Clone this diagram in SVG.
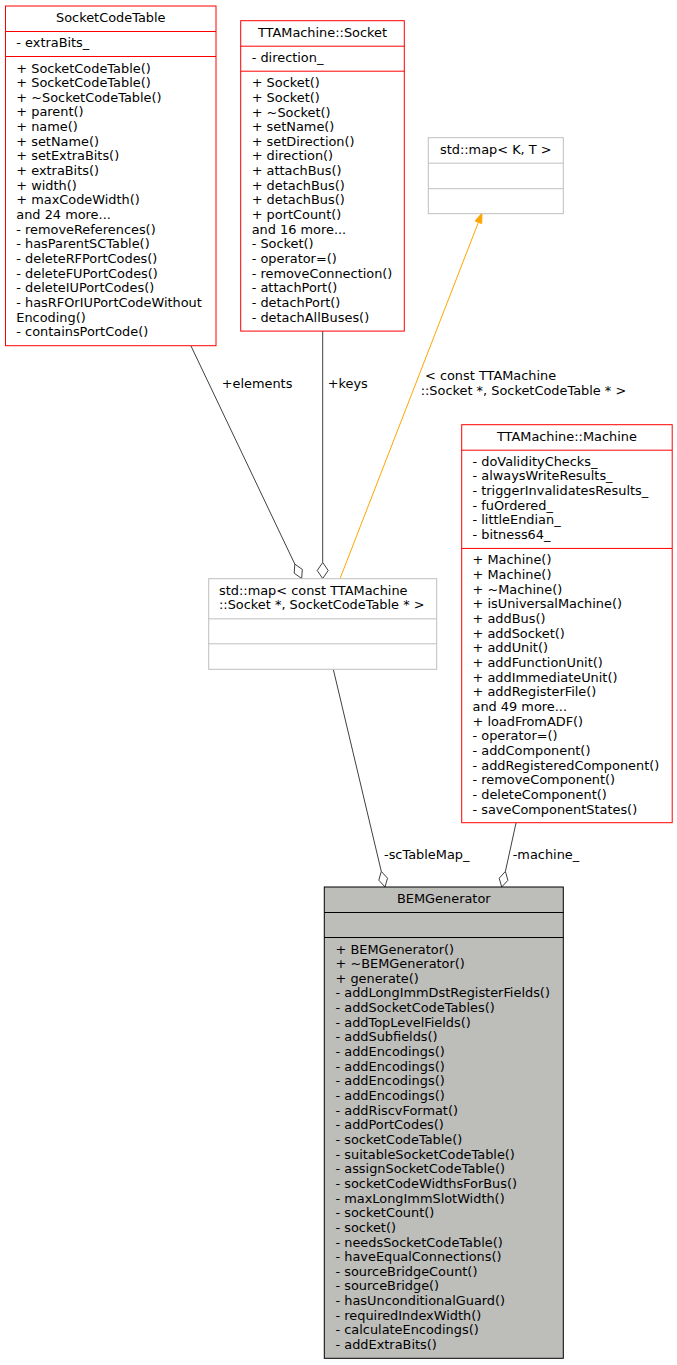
<svg xmlns="http://www.w3.org/2000/svg" width="677" height="1365" viewBox="0 0 677 1365">
<style>
text{font-family:"DejaVu Sans","Liberation Sans",sans-serif;font-size:12.9px;fill:#000}
.c{text-anchor:middle}
.red{fill:#fff;stroke:#ff0000;stroke-width:1}
.gray{fill:#fff;stroke:#bfbfbf;stroke-width:1}
.bem{fill:#bdbdba;stroke:#000;stroke-width:1}
.sr{stroke:#ff0000;stroke-width:1}
.sg{stroke:#bfbfbf;stroke-width:1}
.sb{stroke:#000;stroke-width:1}
.e{fill:none;stroke:#404040;stroke-width:1}
.d{fill:#fff;stroke:#404040;stroke-width:1}
.o{fill:none;stroke:#ffa500;stroke-width:1}
.oh{fill:#ffa500;stroke:#ffa500;stroke-width:1}
</style>
<rect width="677" height="1365" fill="#fff"/>

<g id="connectors">
  <path class="e" d="M191,346 L294.8,564.1"/>
  <polygon class="d" points="301.7,578.5 302.3,569.4 294.8,564.1 294.2,573.2"/>
  <path class="e" d="M322.7,331 L322.7,562.5"/>
  <polygon class="d" points="322.7,578.5 328.2,570.5 322.7,562.5 317.2,570.5"/>
  <path class="o" d="M340,578.7 L478.4,222.3"/>
  <polygon class="oh" points="482,213 481.66,223.57 475.14,221.03"/>
  <path class="e" d="M333.3,669.3 L381.3,871.4"/>
  <polygon class="d" points="385,887 387.5,878.2 381.3,871.4 378.8,880.2"/>
  <path class="e" d="M516,823 L505.4,871.4"/>
  <polygon class="d" points="501.7,887 507.9,880.3 505.4,871.4 499.2,878.2"/>
  <text x="221.7" y="388">+elements</text>
  <text x="327.7" y="388">+keys</text>
  <text x="425" y="380">&lt; const TTAMachine</text>
  <text x="420.7" y="395">::Socket *, SocketCodeTable * &gt;</text>
  <text x="384" y="858.5">-scTableMap_</text>
  <text x="512.7" y="858.5">-machine_</text>
</g>

<g id="SocketCodeTable">
  <rect class="red" x="5.5" y="6" width="210.5" height="339.7"/>
  <line class="sr" x1="5.5" y1="31.5" x2="216" y2="31.5"/>
  <line class="sr" x1="5.5" y1="56.5" x2="216" y2="56.5"/>
  <text class="c" x="110.75" y="22">SocketCodeTable</text>
  <text x="16.3" y="47">- extraBits_</text>
  <text x="16.3" y="72.5"><tspan x="16.3">+ SocketCodeTable()</tspan><tspan x="16.3" dy="14.65">+ SocketCodeTable()</tspan><tspan x="16.3" dy="14.65">+ ~SocketCodeTable()</tspan><tspan x="16.3" dy="14.65">+ parent()</tspan><tspan x="16.3" dy="14.65">+ name()</tspan><tspan x="16.3" dy="14.65">+ setName()</tspan><tspan x="16.3" dy="14.65">+ setExtraBits()</tspan><tspan x="16.3" dy="14.65">+ extraBits()</tspan><tspan x="16.3" dy="14.65">+ width()</tspan><tspan x="16.3" dy="14.65">+ maxCodeWidth()</tspan><tspan x="16.3" dy="14.65">and 24 more...</tspan><tspan x="16.3" dy="14.65">- removeReferences()</tspan><tspan x="16.3" dy="14.65">- hasParentSCTable()</tspan><tspan x="16.3" dy="14.65">- deleteRFPortCodes()</tspan><tspan x="16.3" dy="14.65">- deleteFUPortCodes()</tspan><tspan x="16.3" dy="14.65">- deleteIUPortCodes()</tspan><tspan x="16.3" dy="14.65">- hasRFOrIUPortCodeWithout</tspan><tspan x="16.3" dy="14.65">Encoding()</tspan><tspan x="16.3" dy="14.65">- containsPortCode()</tspan></text>
</g>

<g id="Socket">
  <rect class="red" x="240.7" y="20.7" width="163.6" height="310.4"/>
  <line class="sr" x1="240.7" y1="46.2" x2="404.3" y2="46.2"/>
  <line class="sr" x1="240.7" y1="71.2" x2="404.3" y2="71.2"/>
  <text class="c" x="322.5" y="36.7">TTAMachine::Socket</text>
  <text x="251.7" y="61.7">- direction_</text>
  <text x="251.7" y="87.2"><tspan x="251.7">+ Socket()</tspan><tspan x="251.7" dy="14.65">+ Socket()</tspan><tspan x="251.7" dy="14.65">+ ~Socket()</tspan><tspan x="251.7" dy="14.65">+ setName()</tspan><tspan x="251.7" dy="14.65">+ setDirection()</tspan><tspan x="251.7" dy="14.65">+ direction()</tspan><tspan x="251.7" dy="14.65">+ attachBus()</tspan><tspan x="251.7" dy="14.65">+ detachBus()</tspan><tspan x="251.7" dy="14.65">+ detachBus()</tspan><tspan x="251.7" dy="14.65">+ portCount()</tspan><tspan x="251.7" dy="14.65">and 16 more...</tspan><tspan x="251.7" dy="14.65">- Socket()</tspan><tspan x="251.7" dy="14.65">- operator=()</tspan><tspan x="251.7" dy="14.65">- removeConnection()</tspan><tspan x="251.7" dy="14.65">- attachPort()</tspan><tspan x="251.7" dy="14.65">- detachPort()</tspan><tspan x="251.7" dy="14.65">- detachAllBuses()</tspan></text>
</g>

<g id="MapKT">
  <rect class="gray" x="428.3" y="137.7" width="135" height="76"/>
  <line class="sg" x1="428.3" y1="163.2" x2="563.3" y2="163.2"/>
  <line class="sg" x1="428.3" y1="188.7" x2="563.3" y2="188.7"/>
  <text class="c" x="495.8" y="153.7">std::map&lt; K, T &gt;</text>
</g>

<g id="MapSocket">
  <rect class="gray" x="208.7" y="578.7" width="228" height="90.6"/>
  <line class="sg" x1="208.7" y1="618.85" x2="436.7" y2="618.85"/>
  <line class="sg" x1="208.7" y1="643.8" x2="436.7" y2="643.8"/>
  <text x="219" y="594.7">std::map&lt; const TTAMachine</text>
  <text x="219" y="609.35">::Socket *, SocketCodeTable * &gt;</text>
</g>

<g id="Machine">
  <rect class="red" x="461.7" y="424.7" width="210.5" height="398"/>
  <line class="sr" x1="461.7" y1="450.2" x2="672.2" y2="450.2"/>
  <line class="sr" x1="461.7" y1="548.45" x2="672.2" y2="548.45"/>
  <text class="c" x="566.9" y="440.7">TTAMachine::Machine</text>
  <text x="472.5" y="465.7"><tspan x="472.5">- doValidityChecks_</tspan><tspan x="472.5" dy="14.65">- alwaysWriteResults_</tspan><tspan x="472.5" dy="14.65">- triggerInvalidatesResults_</tspan><tspan x="472.5" dy="14.65">- fuOrdered_</tspan><tspan x="472.5" dy="14.65">- littleEndian_</tspan><tspan x="472.5" dy="14.65">- bitness64_</tspan></text>
  <text x="472.5" y="564.45"><tspan x="472.5">+ Machine()</tspan><tspan x="472.5" dy="14.65">+ Machine()</tspan><tspan x="472.5" dy="14.65">+ ~Machine()</tspan><tspan x="472.5" dy="14.65">+ isUniversalMachine()</tspan><tspan x="472.5" dy="14.65">+ addBus()</tspan><tspan x="472.5" dy="14.65">+ addSocket()</tspan><tspan x="472.5" dy="14.65">+ addUnit()</tspan><tspan x="472.5" dy="14.65">+ addFunctionUnit()</tspan><tspan x="472.5" dy="14.65">+ addImmediateUnit()</tspan><tspan x="472.5" dy="14.65">+ addRegisterFile()</tspan><tspan x="472.5" dy="14.65">and 49 more...</tspan><tspan x="472.5" dy="14.65">+ loadFromADF()</tspan><tspan x="472.5" dy="14.65">- operator=()</tspan><tspan x="472.5" dy="14.65">- addComponent()</tspan><tspan x="472.5" dy="14.65">- addRegisteredComponent()</tspan><tspan x="472.5" dy="14.65">- removeComponent()</tspan><tspan x="472.5" dy="14.65">- deleteComponent()</tspan><tspan x="472.5" dy="14.65">- saveComponentStates()</tspan></text>
</g>

<g id="BEMGenerator">
  <rect class="bem" x="324.3" y="887" width="239" height="471.3"/>
  <line class="sb" x1="324.3" y1="912.5" x2="563.3" y2="912.5"/>
  <line class="sb" x1="324.3" y1="937.5" x2="563.3" y2="937.5"/>
  <text class="c" x="443.8" y="903">BEMGenerator</text>
  <text x="335.5" y="953.5"><tspan x="335.5">+ BEMGenerator()</tspan><tspan x="335.5" dy="14.65">+ ~BEMGenerator()</tspan><tspan x="335.5" dy="14.65">+ generate()</tspan><tspan x="335.5" dy="14.65">- addLongImmDstRegisterFields()</tspan><tspan x="335.5" dy="14.65">- addSocketCodeTables()</tspan><tspan x="335.5" dy="14.65">- addTopLevelFields()</tspan><tspan x="335.5" dy="14.65">- addSubfields()</tspan><tspan x="335.5" dy="14.65">- addEncodings()</tspan><tspan x="335.5" dy="14.65">- addEncodings()</tspan><tspan x="335.5" dy="14.65">- addEncodings()</tspan><tspan x="335.5" dy="14.65">- addEncodings()</tspan><tspan x="335.5" dy="14.65">- addRiscvFormat()</tspan><tspan x="335.5" dy="14.65">- addPortCodes()</tspan><tspan x="335.5" dy="14.65">- socketCodeTable()</tspan><tspan x="335.5" dy="14.65">- suitableSocketCodeTable()</tspan><tspan x="335.5" dy="14.65">- assignSocketCodeTable()</tspan><tspan x="335.5" dy="14.65">- socketCodeWidthsForBus()</tspan><tspan x="335.5" dy="14.65">- maxLongImmSlotWidth()</tspan><tspan x="335.5" dy="14.65">- socketCount()</tspan><tspan x="335.5" dy="14.65">- socket()</tspan><tspan x="335.5" dy="14.65">- needsSocketCodeTable()</tspan><tspan x="335.5" dy="14.65">- haveEqualConnections()</tspan><tspan x="335.5" dy="14.65">- sourceBridgeCount()</tspan><tspan x="335.5" dy="14.65">- sourceBridge()</tspan><tspan x="335.5" dy="14.65">- hasUnconditionalGuard()</tspan><tspan x="335.5" dy="14.65">- requiredIndexWidth()</tspan><tspan x="335.5" dy="14.65">- calculateEncodings()</tspan><tspan x="335.5" dy="14.65">- addExtraBits()</tspan></text>
</g>
</svg>
